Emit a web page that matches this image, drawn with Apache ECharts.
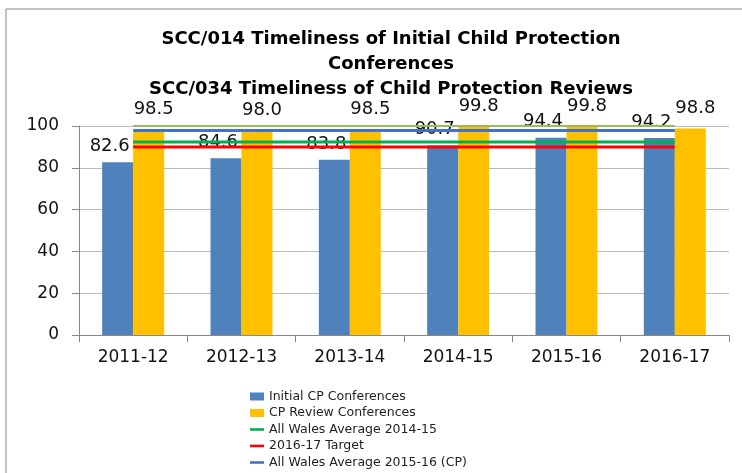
<!DOCTYPE html>
<html>
<head>
<meta charset="utf-8">
<script src="https://cdn.jsdelivr.net/npm/echarts@6/dist/echarts.min.js"></script>
<style>
  html, body { margin: 0; padding: 0; background: #fff; }
  #chart { width: 742px; height: 473px; }
</style>
</head>
<body>
<div id="chart"></div>
<script>
const years = ['2011-12', '2012-13', '2013-14', '2014-15', '2015-16', '2016-17']
const initialCP = [82.6, 84.6, 83.8, 90.7, 94.4, 94.2]
const reviewCP = [98.5, 98.0, 98.5, 99.8, 99.8, 98.8]
const walesAvg1415 = [92.4, 92.4, 92.4, 92.4, 92.4, 92.4]
const target1617 = [90, 90, 90, 90, 90, 90]
const walesAvg1516 = [97.8, 97.8, 97.8, 97.8, 97.8, 97.8]
const hiddenLine = [100, 100, 100, 100, 100, 100]
const yTicks = [0, 20, 40, 60, 80, 100]

const font = 'DejaVu Sans'
// thin bar used as legend icon for the line series
const lineIcon = 'path://M0,0 L14,0 L14,2.6 L0,2.6 Z'

const lineSeries = (name, data, color, width) => ({
  name: name,
  type: 'line',
  data: data,
  symbol: 'none',
  lineStyle: { color: color, width: width },
  itemStyle: { color: color },
  silent: true,
  z: 3
})

const chart = echarts.init(document.getElementById('chart'))
chart.setOption({
  animation: false,
  textStyle: { fontFamily: font },
  title: {
    text: 'SCC/014 Timeliness of Initial Child Protection\nConferences\nSCC/034 Timeliness of Child Protection Reviews',
    left: 386,
    top: 22,
    textAlign: 'center',
    textStyle: { fontFamily: font, fontSize: 18, fontWeight: 'bold', color: '#000', lineHeight: 25 }
  },
  graphic: [{
    type: 'rect',
    shape: { x: 6, y: 9, width: 900, height: 900 },
    style: { fill: 'none', stroke: '#888', lineWidth: 1 },
    silent: true
  }],
  legend: {
    orient: 'vertical',
    left: 250,
    top: 390,
    padding: 0,
    itemWidth: 14,
    itemHeight: 8,
    itemGap: 3.5,
    textStyle: { fontFamily: font, fontSize: 12.5, color: '#222' },
    data: [
      { name: 'Initial CP Conferences', icon: 'rect' },
      { name: 'CP Review Conferences', icon: 'rect' },
      { name: 'All Wales Average 2014-15', icon: lineIcon },
      { name: '2016-17 Target', icon: lineIcon },
      { name: 'All Wales Average 2015-16 (CP)', icon: lineIcon }
    ]
  },
  grid: { left: 79, right: 13, top: 126, bottom: 138 },
  xAxis: {
    type: 'category',
    data: years,
    axisLine: { lineStyle: { color: '#888' } },
    axisTick: { show: true, length: 7, lineStyle: { color: '#888' } },
    axisLabel: { fontSize: 17, color: '#111', margin: 14 }
  },
  yAxis: {
    type: 'value',
    min: yTicks[0],
    max: yTicks[yTicks.length - 1],
    interval: 20,
    axisLine: { show: true, lineStyle: { color: '#888' } },
    axisTick: { show: true, length: 7, lineStyle: { color: '#888' } },
    axisLabel: { fontSize: 17, color: '#111', margin: 20 },
    splitLine: { lineStyle: { color: '#bbb' } }
  },
  series: [
    {
      name: 'Initial CP Conferences',
      type: 'bar',
      data: initialCP,
      barWidth: 31,
      barGap: '0%',
      itemStyle: { color: '#4F81BD' },
      label: {
        show: true, position: 'top', offset: [-8, -2],
        fontSize: 18, color: '#111',
        formatter: p => p.value.toFixed(1)
      }
    },
    {
      name: 'CP Review Conferences',
      type: 'bar',
      data: reviewCP,
      barWidth: 31,
      barGap: '0%',
      itemStyle: { color: '#FFC000' },
      label: {
        show: true, position: 'top', offset: [5, -6],
        fontSize: 18, color: '#111',
        formatter: p => p.value.toFixed(1)
      }
    },
    lineSeries('hidden', hiddenLine, '#9BBB59', 2),
    lineSeries('All Wales Average 2014-15', walesAvg1415, '#00B050', 3),
    lineSeries('2016-17 Target', target1617, '#FF0000', 3),
    lineSeries('All Wales Average 2015-16 (CP)', walesAvg1516, '#4472C4', 3)
  ]
})
</script>
</body>
</html>
